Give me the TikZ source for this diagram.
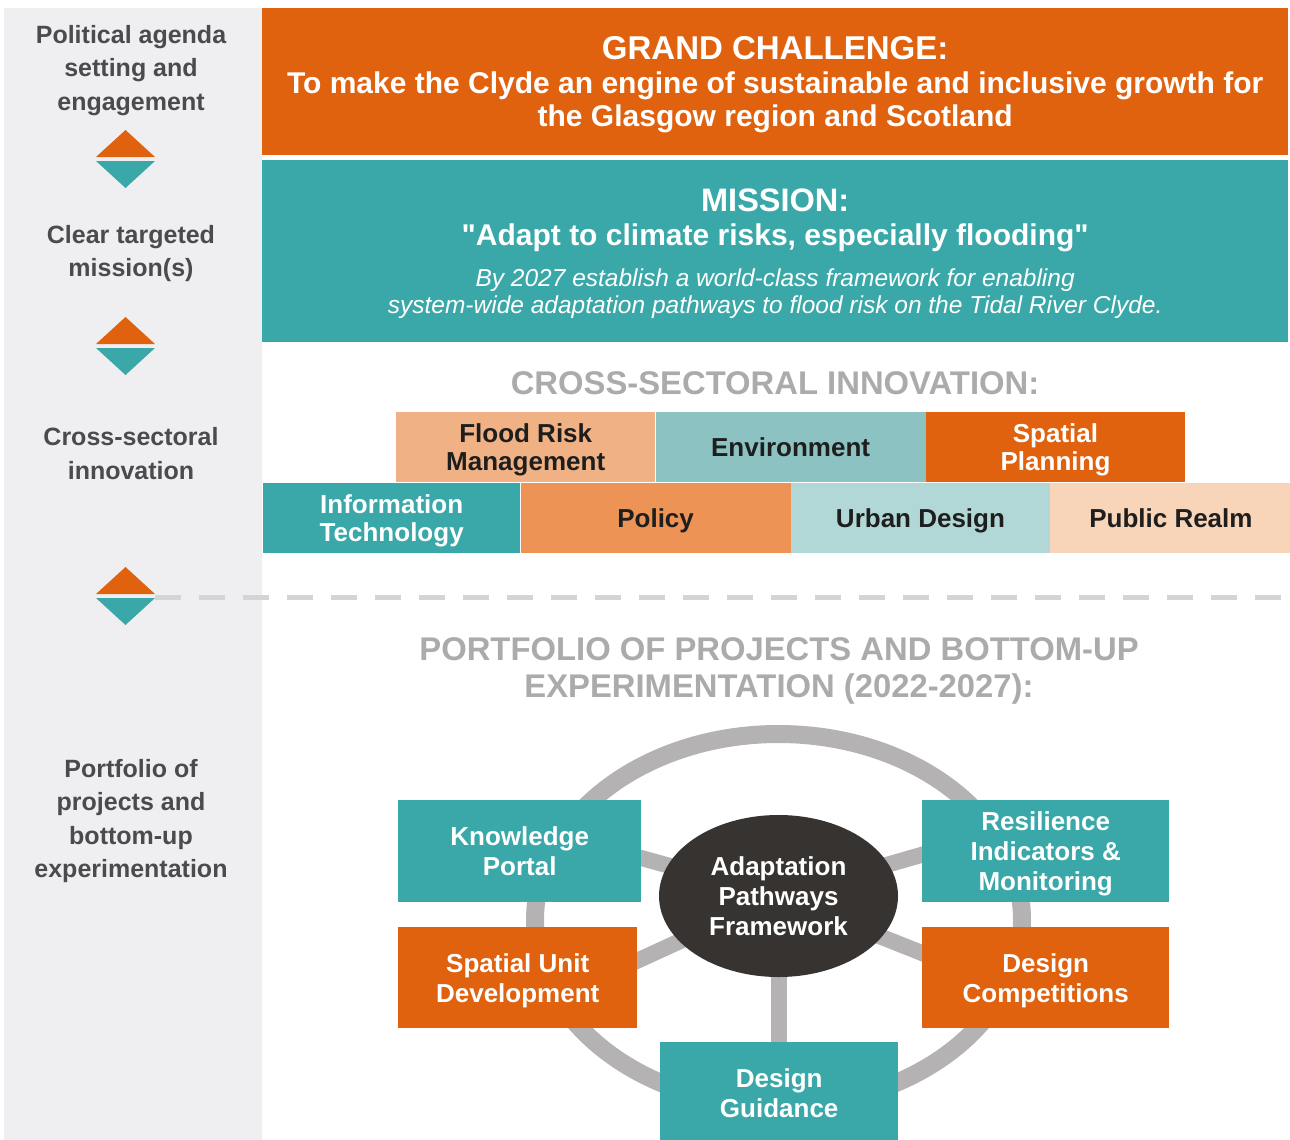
\documentclass[tikz,border=0pt]{standalone}
\usepackage{fontspec}
\setmainfont{Liberation Sans}
\usetikzlibrary{positioning,shapes.geometric}

\definecolor{clydeorange}{HTML}{E0620E}
\definecolor{clydeteal}{HTML}{3AA8A8}
\definecolor{peach}{HTML}{F0B284}
\definecolor{mutedteal}{HTML}{8CC3C2}
\definecolor{midorange}{HTML}{EC9355}
\definecolor{lightteal}{HTML}{B1D8D7}
\definecolor{lightpeach}{HTML}{F8D4B8}
\definecolor{panelgrey}{HTML}{EFEFF1}
\definecolor{sidegrey}{HTML}{4B4B4D}
\definecolor{headgrey}{HTML}{ABABAB}
\definecolor{ringgrey}{HTML}{B4B2B2}
\definecolor{dashgrey}{HTML}{D4D4D6}
\definecolor{hubdark}{HTML}{363331}
\definecolor{inkdark}{HTML}{1E1E1E}

% last line without descender depth, so boxes centre on the letters
\newcommand\nodepth[1]{\raisebox{0pt}[\height][0pt]{#1}}

\tikzset{
  side label/.style={text=sidegrey, align=center, inner sep=0pt, font=\bfseries\fontsize{25}{33.5}\selectfont},
  banner/.style={fill=#1, text=white, anchor=north west, minimum width=1026pt, inner sep=0pt, align=center, font=\bfseries\fontsize{30}{33.5}\selectfont},
  head label/.style={text=headgrey, align=center, inner sep=0pt, font=\bfseries\fontsize{32.8}{37}\selectfont},
  sector box/.style={fill=#1, text=inkdark, anchor=north west, minimum height=70pt, inner sep=0pt, align=center, font=\bfseries\fontsize{26}{28.5}\selectfont},
  project box/.style={fill=#1, text=white, anchor=north west, inner sep=0pt, align=center, font=\bfseries\fontsize{26}{30}\selectfont},
  hub node/.style={ellipse, fill=hubdark, text=white, minimum width=239pt, minimum height=162pt, inner sep=0pt, align=center, font=\bfseries\fontsize{26}{30}\selectfont},
  ring/.style={draw=ringgrey, line width=18pt},
  spoke/.style={draw=ringgrey, line width=16pt},
}

\begin{document}
\begin{tikzpicture}[x=1pt, y=-1pt]
  \useasboundingbox (0,0) rectangle (1290,1140);
  % left column
  \fill[panelgrey] (4,8) rectangle (262,1140);
  \node[side label] (agenda) at (131,70.5) {Political agenda\\setting and\\engagement};
  \node[side label] (targeted) at (131,253.5) {Clear targeted\\mission(s)};
  \node[side label] (crossing) at (131,453.5) {Cross-sectoral\\innovation};
  \node[side label] (portfolio) at (131,821) {Portfolio of\\projects and\\bottom-up\\experimentation};
  \foreach \y in {130,317,567} {
    \fill[clydeorange] (96,\y+27) -- (125.5,\y) -- (155,\y+27) -- cycle;
    \fill[clydeteal] (96,\y+31) -- (125.5,\y+58) -- (155,\y+31) -- cycle;
  }
  \coordinate (dash start) at (155,597);
  \coordinate (dash end) at (1290,597);
  \draw[dashgrey, line width=5pt, dash pattern=on 26pt off 18pt] (dash start) -- (dash end);

  % challenge and mission
  \node[banner=clydeorange, minimum height=147pt] (challenge) at (262,8)
    {{\fontsize{33}{34}\selectfont GRAND CHALLENGE:}\\
     To make the Clyde an engine of sustainable and inclusive growth for\\
     \nodepth{the Glasgow region and Scotland}};
  \node[banner=clydeteal, minimum height=182pt] (mission) at (262,160)
    {{\fontsize{32.5}{34}\selectfont MISSION:}\\[0.5pt]
     \textquotedbl Adapt to climate risks, especially flooding\textquotedbl\\[8pt]
     {\mdseries\itshape\fontsize{24.5}{27}\selectfont By 2027 establish a world-class framework for enabling}\\[-6.5pt]
     \nodepth{\mdseries\itshape\fontsize{24.5}{27}\selectfont system-wide adaptation pathways to flood risk on the Tidal River Clyde.}};

  % sectors
  \node[head label] (innovation) at (775,383) {CROSS-SECTORAL INNOVATION:};
  \node[sector box=peach, minimum width=259pt] (flood) at (396,412) {Flood Risk\\\nodepth{Management}};
  \node[sector box=mutedteal, minimum width=270pt, right=0pt of flood] (environment) {Environment};
  \node[sector box=clydeorange, text=white, minimum width=259pt, right=0pt of environment] (spatial) {Spatial\\\nodepth{Planning}};
  \node[sector box=clydeteal, text=white, minimum width=257pt] (infotech) at (263,483) {Information\\\nodepth{Technology}};
  \node[sector box=midorange, minimum width=270pt, right=0pt of infotech] (policy) {\nodepth{Policy}};
  \node[sector box=lightteal, minimum width=259pt, right=0pt of policy] (urban) {\nodepth{Urban Design}};
  \node[sector box=lightpeach, minimum width=241pt, right=0pt of urban] (realm) {Public Realm};

  % projects wheel
  \node[head label] (projects) at (779,671) {PORTFOLIO OF PROJECTS AND BOTTOM-UP\\EXPERIMENTATION (2022-2027):};
  \coordinate (hubc) at (778.5,896);
  \draw[ring] (778.5,920) ellipse [x radius=243.5pt, y radius=186pt];
  \coordinate (portal end) at (540,830);
  \coordinate (unit end) at (545,1003);
  \coordinate (resilience end) at (1015,828);
  \coordinate (competitions end) at (1015,990);
  \coordinate (guidance end) at (778.5,1050);
  \foreach \e in {portal end, unit end, resilience end, competitions end, guidance end}
    \draw[spoke] (hubc) -- (\e);
  \node[hub node] (framework) at (hubc) {Adaptation\\Pathways\\Framework};
  \node[project box=clydeteal, minimum width=243pt, minimum height=102pt] (portal) at (398,800) {Knowledge\\Portal};
  \node[project box=clydeteal, minimum width=247pt, minimum height=102pt] (resilience) at (922,800) {Resilience\\Indicators \&\\\nodepth{Monitoring}};
  \node[project box=clydeorange, minimum width=239pt, minimum height=101pt] (unit) at (398,927) {Spatial Unit\\\nodepth{Development}};
  \node[project box=clydeorange, minimum width=247pt, minimum height=101pt] (competitions) at (922,927) {Design\\\nodepth{Competitions}};
  \node[project box=clydeteal, minimum width=238pt, minimum height=102pt] (guidance) at (660,1042) {Design\\Guidance};
\end{tikzpicture}
\end{document}
